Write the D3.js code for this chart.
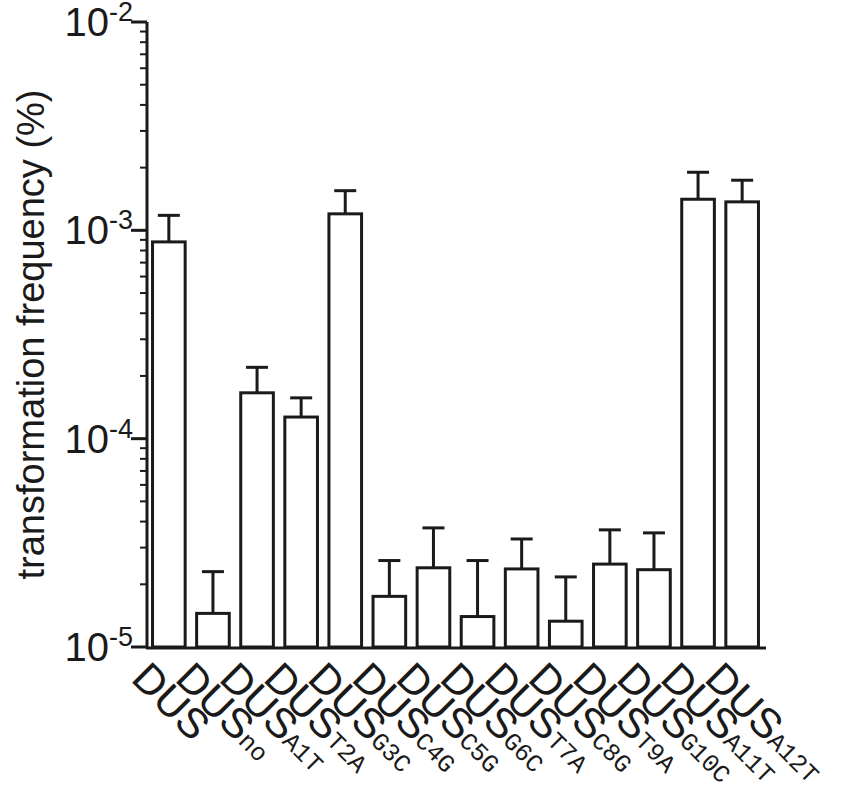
<!DOCTYPE html>
<html><head><meta charset="utf-8">
<script src="https://cdn.jsdelivr.net/npm/d3@7"></script>
<style>body{margin:0;background:#fff}</style>
</head><body><div id="chart"></div>
<script>
// Categories: subscript of each DUS variant
var subs = ["","no","A1T","T2A","G3C","C4G","C5G","G6C","T7A","C8G","T9A","G10C","A11T","A12T"];
var means = [8.8e-4,1.45e-5,1.66e-4,1.27e-4,1.2e-3,1.75e-5,2.4e-5,1.4e-5,2.37e-5,1.33e-5,2.5e-5,2.35e-5,1.41e-3,1.37e-3];
var errTops = [1.18e-3,2.3e-5,2.2e-4,1.57e-4,1.55e-3,2.6e-5,3.73e-5,2.6e-5,3.3e-5,2.17e-5,3.65e-5,3.53e-5,1.9e-3,1.74e-3];
var majorTicks = [1e-5,1e-4,1e-3,1e-2];

var width = 860, height = 800;
var margin = {left: 147, top: 22, right: 98, bottom: 153};
var font = "Liberation Sans, Arial, sans-serif";

var svg = d3.select("#chart").append("svg")
    .attr("width", width).attr("height", height);

var x = d3.scaleBand()
    .domain(d3.range(subs.length))
    .range([margin.left + 2, width - margin.right])
    .paddingInner(0.26).paddingOuter(0.08);

var y = d3.scaleLog()
    .domain([1e-5, 1e-2])
    .range([height - margin.bottom, margin.top]);

var base = y(1e-5);

// error bars
var eb = svg.append("g").attr("stroke", "#1a1a1a").attr("stroke-width", 3);
subs.forEach(function(s, i) {
    var cx = x(i) + x.bandwidth() / 2;
    eb.append("line").attr("x1", cx).attr("x2", cx)
        .attr("y1", y(means[i])).attr("y2", y(errTops[i]));
    eb.append("line").attr("x1", cx - 11).attr("x2", cx + 11)
        .attr("y1", y(errTops[i])).attr("y2", y(errTops[i]));
});

// bars
svg.append("g").selectAll("rect")
    .data(means)
    .enter().append("rect")
    .attr("x", function(d, i) { return x(i); })
    .attr("y", function(d) { return y(d); })
    .attr("width", x.bandwidth())
    .attr("height", function(d) { return base - y(d); })
    .attr("fill", "#fff")
    .attr("stroke", "#1a1a1a")
    .attr("stroke-width", 3);

// y axis with minor ticks
var yAxis = svg.append("g").attr("stroke", "#1a1a1a");
yAxis.append("line").attr("x1", margin.left).attr("x2", margin.left)
    .attr("y1", margin.top).attr("y2", base + 1.5).attr("stroke-width", 3);
var minor = [];
[1e-5, 1e-4, 1e-3].forEach(function(d) {
    for (var k = 2; k <= 9; k++) minor.push(d * k);
});
minor.forEach(function(v) {
    yAxis.append("line").attr("x1", margin.left - 7).attr("x2", margin.left)
        .attr("y1", y(v)).attr("y2", y(v)).attr("stroke-width", 2);
});
majorTicks.forEach(function(v) {
    yAxis.append("line").attr("x1", margin.left - 16).attr("x2", margin.left)
        .attr("y1", y(v)).attr("y2", y(v)).attr("stroke-width", 3);
    var t = svg.append("text")
        .attr("x", margin.left - 14).attr("y", y(v) + 14)
        .attr("text-anchor", "end")
        .attr("font-family", font)
        .attr("font-size", 40).attr("fill", "#1a1a1a");
    t.append("tspan").text("10");
    t.append("tspan").attr("dy", -15).attr("font-size", 27).text(Math.round(Math.log10(v)));
});

// x axis line
svg.append("line").attr("x1", margin.left - 1).attr("x2", width - margin.right + 4)
    .attr("y1", base + 1).attr("y2", base + 1)
    .attr("stroke", "#1a1a1a").attr("stroke-width", 3);

// x labels, rotated 45deg
subs.forEach(function(s, i) {
    var cx = x(i) + x.bandwidth() / 2;
    var t = svg.append("text")
        .attr("transform", "translate(" + (cx - 18) + "," + (base + 12) + ") rotate(45)")
        .attr("font-family", font)
        .attr("font-size", 42).attr("fill", "#1a1a1a")
        .attr("dominant-baseline", "hanging");
    t.append("tspan").text("DUS");
    if (s) t.append("tspan").attr("dy", 12)
        .attr("font-family", "Liberation Mono, Courier New, monospace")
        .attr("font-size", 25).text(s);
});

// y label
svg.append("text")
    .attr("transform", "translate(44," + ((margin.top + base) / 2) + ") rotate(-90)")
    .attr("text-anchor", "middle")
    .attr("font-family", font)
    .attr("font-size", 38).attr("fill", "#1a1a1a")
    .text("transformation frequency (%)");
</script></body></html>
